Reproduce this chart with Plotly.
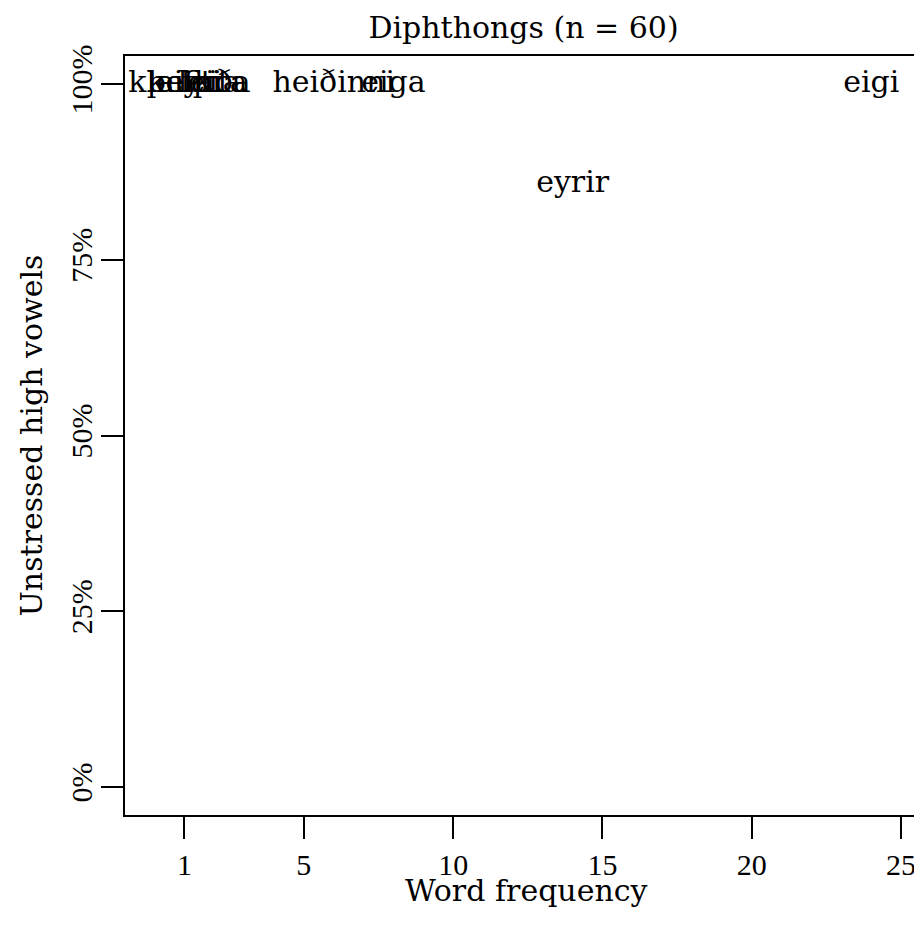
import plotly.graph_objects as go

# Data
words = ["kleifina", "lauki", "keipi", "þeyti", "leiða", "leita",
         "heiðinni", "eiga", "eyrir", "eigi"]
frequency = [1, 1, 1, 1, 2, 2, 6, 8, 14, 24]
share_high = [1.0, 1.0, 1.0, 1.0, 1.0, 1.0, 1.0, 1.0, 12 / 14, 1.0]

x_ticks = [1, 5, 10, 15, 20, 25]
y_ticks = [0, 0.25, 0.5, 0.75, 1.0]
y_tick_text = ["0%", "25%", "50%", "75%", "100%"]

TXT = "DejaVu Serif"
TICKF = "Liberation Serif"

W, H = 914, 921
PLOT_TOP, PLOT_BOTTOM = 48, 807

fig = go.Figure()
fig.add_trace(go.Scatter(
    x=frequency, y=share_high, text=words, mode="text",
    textposition="middle center",
    textfont=dict(family=TXT, size=30, color="black"),
    cliponaxis=False, showlegend=False, hoverinfo="skip",
))

fig.update_layout(
    width=W, height=H,
    paper_bgcolor="white", plot_bgcolor="white",
    margin=dict(l=117, r=0, t=PLOT_TOP, b=H - PLOT_BOTTOM),
    title=dict(text="Diphthongs (n = 60)", x=0.5, xref="paper",
               y=1 - 19 / H, yanchor="middle",
               font=dict(family=TXT, size=30, color="black")),
    xaxis=dict(
        range=[-0.99, 25.70], tickvals=x_ticks,
        ticktext=[str(v) for v in x_ticks],
        showgrid=False, zeroline=False,
        showline=True, mirror=True, linecolor="black", linewidth=2,
        ticks="outside", ticklen=22, tickwidth=2, tickcolor="black",
        ticklabelstandoff=0,
        tickfont=dict(family=TICKF, size=30, color="black"),
    ),
    yaxis=dict(
        range=[-0.04, 1.04], tickvals=y_ticks, ticktext=y_tick_text,
        showgrid=False, zeroline=False,
        showline=True, mirror=False, linecolor="black", linewidth=2,
        ticks="outside", ticklen=22, tickwidth=2, tickcolor="black",
        tickangle=-90, ticklabelstandoff=-3,
        tickfont=dict(family=TICKF, size=30, color="black"),
        title=dict(text="Unstressed high vowels", standoff=14,
                   font=dict(family=TXT, size=30, color="black")),
    ),
    annotations=[dict(
        text="Word frequency", xref="paper", yref="paper",
        x=(437 - 117) / (W - 117) if False else 0.5, xanchor="center",
        y=(PLOT_BOTTOM - 882) / (PLOT_BOTTOM - PLOT_TOP), yanchor="middle",
        showarrow=False, font=dict(family=TXT, size=30, color="black"),
    )],
)

# center the x-axis title on the visible plot region as in the reference (~x=526 page)
fig.layout.annotations[0].x = (518 - 117) / (W - 117)

fig.write_html("out.html")
